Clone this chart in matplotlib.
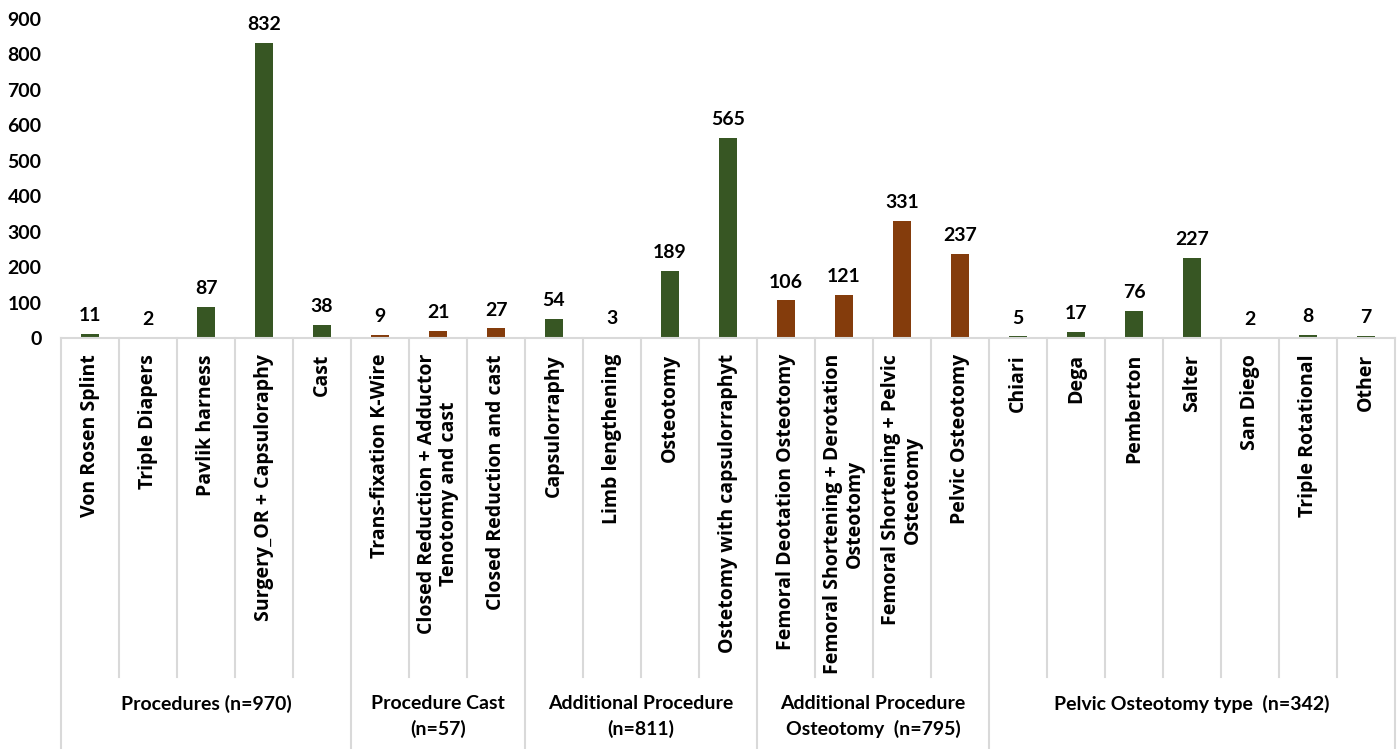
import matplotlib.pyplot as plt
from matplotlib.transforms import blended_transform_factory
import numpy as np

# data
categories = ['Von Rosen Splint', 'Triple Diapers', 'Pavlik harness',
              'Surgery_OR + Capsuloraphy', 'Cast',
              'Trans-fixation K-Wire', 'Closed Reduction + Adductor\nTenotomy and cast',
              'Closed Reduction and cast',
              'Capsulorraphy', 'Limb lengthening', 'Osteotomy', 'Ostetomy with capsulorraphyt',
              'Femoral Deotation Osteotomy', 'Femoral Shortening + Derotation\nOsteotomy',
              'Femoral Shortening + Pelvic\nOsteotomy', 'Pelvic Osteotomy',
              'Chiari', 'Dega', 'Pemberton', 'Salter', 'San Diego', 'Triple Rotational', 'Other']
values = [11, 2, 87, 832, 38,
          9, 21, 27,
          54, 3, 189, 565,
          106, 121, 331, 237,
          5, 17, 76, 227, 2, 8, 7]
groups = ['Procedures (n=970)', 'Procedure Cast\n(n=57)', 'Additional Procedure\n(n=811)',
          'Additional Procedure\nOsteotomy  (n=795)', 'Pelvic Osteotomy type  (n=342)']
group_sizes = [5, 3, 4, 4, 7]

GREEN = '#375623'
BROWN = '#843C0C'
group_colors = [GREEN, BROWN, GREEN, BROWN, GREEN]
colors = []
for c, n in zip(group_colors, group_sizes):
    colors += [c] * n

fig = plt.figure(figsize=(13.99, 7.49), dpi=100)
ax = fig.add_axes([61/1399, (749-338)/749, (1395-61)/1399, 319/749])

x = np.arange(len(values))
ax.bar(x, values, width=0.31, color=colors)
ax.set_xlim(-0.5, len(values) - 0.5)
ax.set_ylim(0, 900)
ax.set_yticks(range(0, 901, 100))
ax.tick_params(axis='y', length=0, pad=14, labelsize=14)
for lab in ax.get_yticklabels():
    lab.set_fontfamily('Lato')
    lab.set_fontweight('bold')
ax.set_xticks([])
for s in ['top', 'right', 'left']:
    ax.spines[s].set_visible(False)
ax.spines['bottom'].set_color('#D9D9D9')
ax.spines['bottom'].set_linewidth(1.5)

for xi, v in zip(x, values):
    ax.annotate(str(v), (xi, v), xytext=(0, 7), textcoords='offset points',
                ha='center', va='bottom', fontsize=14, fontweight='bold', family='Lato')

# category labels + separators drawn under the axis
tr = blended_transform_factory(ax.transData, fig.transFigure)
y_cat_top = (749 - 354) / 749
y_cat_bot = (749 - 677) / 749
for xi, lab in zip(x, categories):
    ax.text(xi, y_cat_top, lab, transform=tr, rotation=90, ha='center', va='top',
            multialignment='center', fontsize=14, fontweight='bold', family='Open Sans',
            linespacing=1.1)

grey = '#D9D9D9'
bounds = np.cumsum([0] + group_sizes)
for b in range(len(values) + 1):
    if b in bounds:
        ax.plot([b - 0.5, b - 0.5], [(749-338)/749, 0], transform=tr, color=grey,
                lw=1.5, clip_on=False)
    else:
        ax.plot([b - 0.5, b - 0.5], [(749-338)/749, y_cat_bot], transform=tr, color=grey,
                lw=1.5, clip_on=False)

y_grp = (749 - 695) / 749
for i, g in enumerate(groups):
    center = (bounds[i] + bounds[i+1] - 1) / 2
    ax.text(center, y_grp, g, transform=tr, ha='center', va='top', fontsize=14,
            fontweight='bold', family='Lato', linespacing=1.5)

fig.savefig('out.png', dpi=100)
